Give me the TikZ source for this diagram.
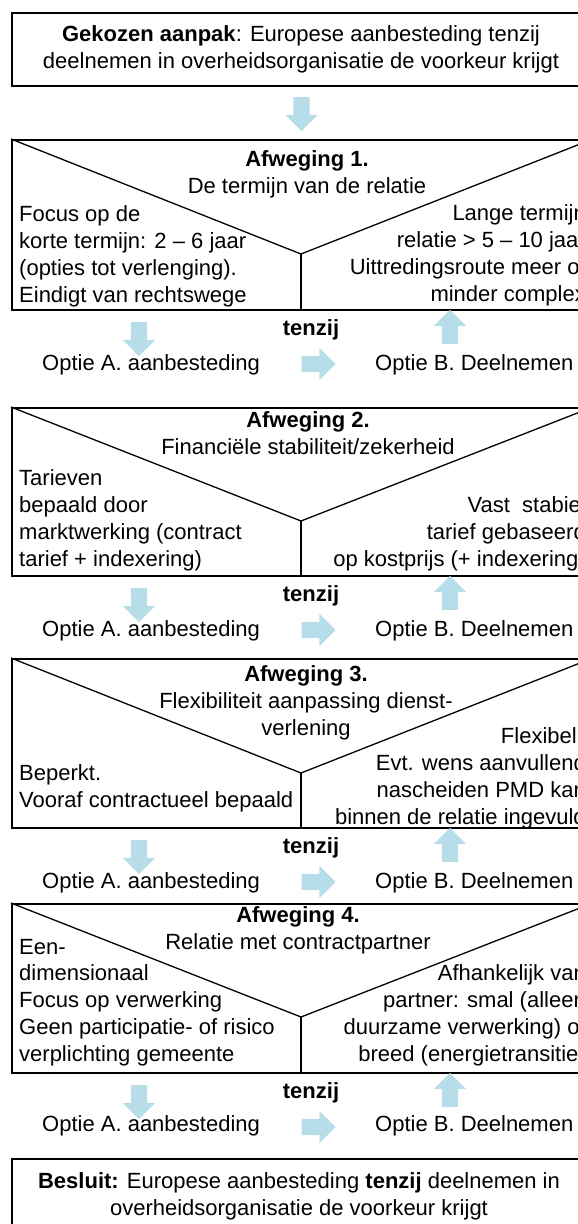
\documentclass[tikz,border=0pt]{standalone}
\usepackage{fontspec}
\setmainfont{Liberation Sans}
\usetikzlibrary{shapes.arrows}
\definecolor{arrblue}{RGB}{183,222,232}

\begin{document}
\begin{tikzpicture}[x=1pt, y=-1pt,
    every node/.style={inner sep=0pt, font=\fontsize{22}{26.7}\selectfont},
    txtl/.style={anchor=base west, align=left},
    txtr/.style={anchor=base east, align=right},
    txtc/.style={anchor=base, align=center},
    frame/.style={draw=black, line width=1.8pt, anchor=north west, minimum width=580pt},
    vline/.style={draw=black, line width=1.3pt},
    blockarr/.style={shape=single arrow, fill=arrblue, draw=none, inner xsep=0pt, inner ysep=8pt, minimum height=34pt, single arrow head extend=8pt}]
  \useasboundingbox (0,0) rectangle (578,1224);
  \clip (0,0) rectangle (578,1224);

  % start (multi-line nodes sit on their last baseline)
  \node[frame, minimum height=73pt] (startbox) at (11,12) {};
  \node[txtc] (start) at (301,68) {\textbf{Gekozen aanpak}: Europese aanbesteding tenzij\\deelnemen in overheidsorganisatie de voorkeur krijgt};
  \node[blockarr, rotate=-90] (arr0) at (301.5,110) {};

  % afweging 1
  \node[frame, minimum height=170pt] (box1) at (11,139) {};
  \coordinate (v1) at (301,254);
  \draw[vline] (box1.north west) -- (v1) -- (box1.north east);
  \draw[vline] (v1) -- (v1 |- box1.south);
  \node[txtc] (h1) at (307,193) {\textbf{Afweging 1.}\\De termijn van de relatie};
  \node[txtl] (l1) at (19,302) {Focus op de\\korte termijn: 2 – 6 jaar\\(opties tot verlenging).\\Eindigt van rechtswege};
  \node[txtr] (r1) at (586,301) {Lange termijn\\relatie > 5 – 10 jaar\\Uittredingsroute meer of\\minder complex};
  \node[txtc] (t1) at (311,335) {\textbf{tenzij}};
  \node[txtl] (a1) at (42,370) {Optie A. aanbesteding};
  \node[txtl] (b1) at (375,370) {Optie B. Deelnemen};
  \node[blockarr, rotate=-90] (da1) at (139,335) {};
  \node[blockarr, rotate=90] (ua1) at (450,331) {};
  \node[blockarr] (ra1) at (314.5,364) {};

  % afweging 2
  \node[frame, minimum height=168pt] (box2) at (11,407) {};
  \coordinate (v2) at (301,521);
  \draw[vline] (box2.north west) -- (v2) -- (box2.north east);
  \draw[vline] (v2) -- (v2 |- box2.south);
  \node[txtc] (h2) at (308,454) {\textbf{Afweging 2.}\\Financiële stabiliteit/zekerheid};
  \node[txtl] (l2) at (19,566) {Tarieven\\bepaald door\\marktwerking (contract\\tarief + indexering)};
  \node[txtr] (r2) at (586,566) {Vast\ \ stabiel\\tarief gebaseerd\\op kostprijs (+ indexering)};
  \node[txtc] (t2) at (311,601) {\textbf{tenzij}};
  \node[txtl] (a2) at (42,636) {Optie A. aanbesteding};
  \node[txtl] (b2) at (375,636) {Optie B. Deelnemen};
  \node[blockarr, rotate=-90] (da2) at (139,601) {};
  \node[blockarr, rotate=90] (ua2) at (450,597) {};
  \node[blockarr] (ra2) at (314.5,630) {};

  % afweging 3
  \node[frame, minimum height=169pt] (box3) at (11,658) {};
  \coordinate (v3) at (301,773);
  \draw[vline] (box3.north west) -- (v3) -- (box3.north east);
  \draw[vline] (v3) -- (v3 |- box3.south);
  \node[txtc] (h3) at (306,735) {\textbf{Afweging 3.}\\Flexibiliteit aanpassing dienst-\\verlening};
  \node[txtl] (l3) at (19,807) {Beperkt.\\Vooraf contractueel bepaald};
  \node[txtr] (r3) at (586,824) {Flexibel\kern9pt\\Evt. wens aanvullend\\nascheiden PMD kan\\binnen de relatie ingevuld};
  \node[txtc] (t3) at (311,853) {\textbf{tenzij}};
  \node[txtl] (a3) at (42,888) {Optie A. aanbesteding};
  \node[txtl] (b3) at (375,888) {Optie B. Deelnemen};
  \node[blockarr, rotate=-90] (da3) at (139,853) {};
  \node[blockarr, rotate=90] (ua3) at (450,849) {};
  \node[blockarr] (ra3) at (314.5,882) {};

  % afweging 4
  \node[frame, minimum height=169pt] (box4) at (11,903) {};
  \coordinate (v4) at (301,1017);
  \draw[vline] (box4.north west) -- (v4) -- (box4.north east);
  \draw[vline] (v4) -- (v4 |- box4.south);
  \node[txtc] (h4) at (298,949) {\textbf{Afweging 4.}\\Relatie met contractpartner};
  \node[txtl] (l4) at (19,1061) {Een-\\dimensionaal\\Focus op verwerking\\Geen participatie- of risico\\verplichting gemeente};
  \node[txtr] (r4) at (586,1061) {Afhankelijk van\\partner: smal (alleen\\duurzame verwerking) of\\breed (energietransitie)};
  \node[txtc] (t4) at (311,1098) {\textbf{tenzij}};
  \node[txtl] (a4) at (42,1131) {Optie A. aanbesteding};
  \node[txtl] (b4) at (375,1131) {Optie B. Deelnemen};
  \node[blockarr, rotate=-90] (da4) at (139,1098) {};
  \node[blockarr, rotate=90] (ua4) at (450,1094) {};
  \node[blockarr] (ra4) at (314.5,1127) {};

  % besluit
  \node[frame, minimum height=90pt] (endbox) at (11,1158) {};
  \node[txtc] (besluit) at (299,1215) {\textbf{Besluit:} Europese aanbesteding \textbf{tenzij} deelnemen in\\overheidsorganisatie de voorkeur krijgt};
\end{tikzpicture}
\end{document}
